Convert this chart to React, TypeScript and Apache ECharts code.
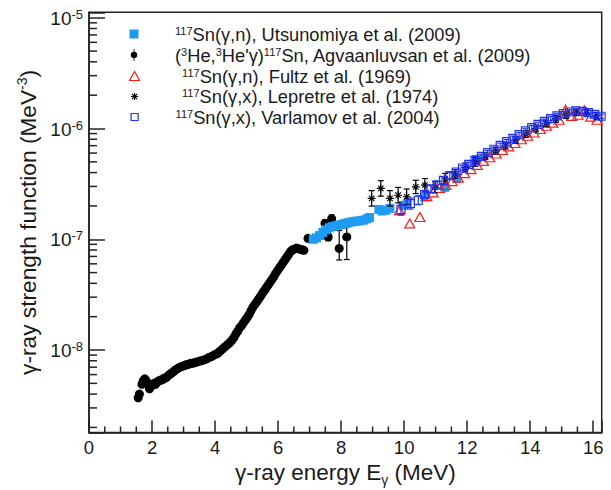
import React, { useEffect, useRef } from "react";
import * as echarts from "echarts";

const FONT = "'Liberation Sans', Arial, Helvetica, sans-serif";
const TXT = "#1a1a1a";
const AX = "#222222";
const BLUE = "#1e9cf2";
const RED = "#ff1a1a";
const VBLUE = "#2233ee";

// Axis ranges
const X_MIN = 0;
const X_MAX = 16.27;
const Y_MIN = 1.8e-9;
const Y_MAX = 1.12e-5;

// (3He,3He'γ)117Sn, Agvaanluvsan et al. (2009)
const agvE = [1.56, 1.6, 1.68, 1.72, 1.77, 1.82, 1.87, 1.92, 1.96, 2.01, 2.06, 2.11, 2.16, 2.21, 2.27, 2.32, 2.38, 2.44, 2.5, 2.56, 2.62, 2.68, 2.74, 2.8, 2.86, 2.92, 2.98, 3.04, 3.1, 3.16, 3.22, 3.28, 3.34, 3.4, 3.46, 3.52, 3.58, 3.64, 3.7, 3.76, 3.82, 3.88, 3.94, 4.0, 4.06, 4.12, 4.18, 4.24, 4.3, 4.36, 4.42, 4.48, 4.54, 4.6, 4.66, 4.72, 4.78, 4.84, 4.9, 4.96, 5.02, 5.08, 5.14, 5.2, 5.26, 5.32, 5.38, 5.44, 5.5, 5.56, 5.62, 5.68, 5.74, 5.8, 5.86, 5.92, 5.98, 6.04, 6.1, 6.16, 6.22, 6.28, 6.34, 6.4, 6.46, 6.52, 6.58, 6.64, 6.7, 6.76, 6.82, 6.95, 7.49, 7.59, 7.7, 7.94, 8.18];
const agvF = [3.7e-9, 4.0e-9, 4.9e-9, 5.25e-9, 5.5e-9, 5.25e-9, 4.9e-9, 4.47e-9, 4.68e-9, 4.79e-9, 5.0e-9, 4.9e-9, 5.13e-9, 5.25e-9, 5.37e-9, 5.37e-9, 5.56e-9, 5.62e-9, 5.82e-9, 6.03e-9, 6.17e-9, 6.38e-9, 6.61e-9, 6.76e-9, 6.92e-9, 7.08e-9, 7.16e-9, 7.24e-9, 7.41e-9, 7.41e-9, 7.59e-9, 7.59e-9, 7.67e-9, 7.76e-9, 7.85e-9, 7.94e-9, 8.04e-9, 8.13e-9, 8.22e-9, 8.41e-9, 8.61e-9, 8.71e-9, 8.91e-9, 9.12e-9, 9.23e-9, 9.55e-9, 9.89e-9, 1.023e-8, 1.06e-8, 1.096e-8, 1.135e-8, 1.175e-8, 1.23e-8, 1.3e-8, 1.396e-8, 1.48e-8, 1.585e-8, 1.66e-8, 1.76e-8, 1.86e-8, 1.97e-8, 2.09e-8, 2.26e-8, 2.43e-8, 2.57e-8, 2.72e-8, 2.88e-8, 3.05e-8, 3.24e-8, 3.43e-8, 3.63e-8, 3.85e-8, 4.07e-8, 4.32e-8, 4.57e-8, 4.9e-8, 5.19e-8, 5.5e-8, 5.82e-8, 6.17e-8, 6.53e-8, 6.92e-8, 7.33e-8, 7.76e-8, 8.04e-8, 8.13e-8, 8.32e-8, 8.22e-8, 8.13e-8, 8.04e-8, 7.94e-8, 1.02e-7, 1.39e-7, 1.05e-7, 1.53e-7, 8.26e-8, 1.05e-7];
// visible error bars of the last Agvaanluvsan points
const agvBarE = [7.49, 7.59, 7.7, 7.94, 8.18];
const agvBarLo = [1.29e-7, 9.7e-8, 1.41e-7, 6.5e-8, 6.56e-8];
const agvBarHi = [1.5e-7, 1.14e-7, 1.66e-7, 1.2e-7, 1.29e-7];

// 117Sn(γ,n), Utsunomiya et al. (2009)
const utsE = [7.12, 7.22, 7.32, 7.42, 7.52, 7.62, 7.72, 7.82, 7.92, 8.02, 8.12, 8.22, 8.32, 8.42, 8.52, 8.62, 8.72, 8.82, 8.9, 9.2, 9.3, 9.42, 9.55, 9.98, 10.1, 10.66, 11.29, 11.67, 12.3];
const utsF = [1.0e-7, 1.03e-7, 1.08e-7, 1.15e-7, 1.22e-7, 1.27e-7, 1.3e-7, 1.32e-7, 1.34e-7, 1.36e-7, 1.39e-7, 1.41e-7, 1.43e-7, 1.45e-7, 1.46e-7, 1.47e-7, 1.49e-7, 1.53e-7, 1.57e-7, 1.86e-7, 1.8e-7, 1.83e-7, 1.9e-7, 2.02e-7, 2.1e-7, 2.42e-7, 2.94e-7, 3.54e-7, 5.26e-7];

// 117Sn(γ,n), Fultz et al. (1969)
const fulE = [9.85, 10.18, 10.5, 10.72, 10.92, 11.12, 11.32, 11.52, 11.72, 11.92, 12.12, 12.32, 12.52, 12.72, 12.92, 13.12, 13.32, 13.52, 13.72, 13.92, 14.12, 14.32, 14.52, 14.72, 14.92, 15.12, 15.32, 15.52, 15.72, 15.92, 16.12, 16.3];
const fulF = [1.83e-7, 1.39e-7, 1.59e-7, 2.45e-7, 2.65e-7, 2.9e-7, 3.1e-7, 3.35e-7, 3.6e-7, 3.95e-7, 4.3e-7, 4.7e-7, 5.1e-7, 5.5e-7, 5.95e-7, 6.4e-7, 6.9e-7, 7.4e-7, 8.0e-7, 8.6e-7, 9.2e-7, 9.9e-7, 1.06e-6, 1.13e-6, 1.2e-6, 1.48e-6, 1.3e-6, 1.33e-6, 1.46e-6, 1.28e-6, 1.2e-6, 1.16e-6];

// 117Sn(γ,x), Lepretre et al. (1974) — error in decades
const lepE = [8.97, 9.26, 9.55, 9.81, 10.08, 10.37, 10.66, 10.98, 11.3, 11.62, 11.94, 12.26, 12.58, 12.9, 13.22, 13.54, 13.86, 14.18, 14.5, 14.82, 15.14, 15.46, 15.78, 16.1];
const lepF = [2.34e-7, 2.88e-7, 2.34e-7, 2.5e-7, 2.42e-7, 2.97e-7, 3.08e-7, 2.95e-7, 3.5e-7, 3.9e-7, 4.45e-7, 5.0e-7, 5.65e-7, 6.3e-7, 7.0e-7, 7.9e-7, 8.9e-7, 1.0e-6, 1.11e-6, 1.22e-6, 1.32e-6, 1.4e-6, 1.38e-6, 1.3e-6];
const lepErr = [0.07, 0.07, 0.07, 0.07, 0.07, 0.06, 0.06, 0.05, 0.05, 0.04, 0.04, 0.04, 0.03, 0.03, 0.03, 0.03, 0.03, 0.03, 0.03, 0.03, 0.03, 0.03, 0.03, 0.03];

// 117Sn(γ,x), Varlamov et al. (2004) — error in decades
const varE = [9.9, 10.2, 10.45, 10.65, 10.85, 11.05, 11.25, 11.45, 11.65, 11.85, 12.05, 12.25, 12.45, 12.65, 12.85, 13.05, 13.25, 13.45, 13.65, 13.85, 14.05, 14.25, 14.45, 14.65, 14.85, 15.05, 15.25, 15.45, 15.65, 15.85, 16.05, 16.25];
const varF = [1.85e-7, 2.1e-7, 2.25e-7, 2.55e-7, 2.85e-7, 3.1e-7, 3.4e-7, 3.75e-7, 4.05e-7, 4.4e-7, 4.75e-7, 5.15e-7, 5.6e-7, 6.05e-7, 6.5e-7, 7.05e-7, 7.6e-7, 8.15e-7, 8.8e-7, 9.5e-7, 1.02e-6, 1.09e-6, 1.16e-6, 1.23e-6, 1.3e-6, 1.36e-6, 1.41e-6, 1.44e-6, 1.43e-6, 1.39e-6, 1.34e-6, 1.29e-6];
const varErr = [0.05, 0.05, 0.04, 0.03, 0.03, 0.03, 0.03, 0.03, 0.02, 0.02, 0.02, 0.02, 0.02, 0.02, 0.02, 0.02, 0.02, 0.02, 0.02, 0.02, 0.02, 0.02, 0.02, 0.02, 0.02, 0.02, 0.02, 0.02, 0.02, 0.02, 0.02, 0.02];

const N_UTS = "117Sn(γ,n), Utsunomiya et al. (2009)";
const N_AGV = "(3He,3He'γ)117Sn, Agvaanluvsan et al. (2009)";
const N_FUL = "117Sn(γ,n), Fultz et al. (1969)";
const N_LEP = "117Sn(γ,x), Lepretre et al. (1974)";
const N_VAR = "117Sn(γ,x), Varlamov et al. (2004)";

const LEGEND_RICH: Record<string, string> = {
  [N_UTS]: "{s|117}{t|Sn(γ,n), Utsunomiya et al. (2009)}",
  [N_AGV]: "{t|(}{s|3}{t|He,}{s|3}{t|He'γ)}{s|117}{t|Sn, Agvaanluvsan et al. (2009)}",
  [N_FUL]: "{s|117}{t|Sn(γ,n), Fultz et al. (1969)}",
  [N_LEP]: "{s|117}{t|Sn(γ,x), Lepretre et al. (1974)}",
  [N_VAR]: "{s|117}{t|Sn(γ,x), Varlamov et al. (2004)}",
};

const STAR = "path://M5,0V10M0,5H10M1.6,1.6L8.4,8.4M8.4,1.6L1.6,8.4";

// legend icons: a box W x 12 with the glyph in its left 12 px
function iconBox(w: number, body: string) {
  return "path://M0,0M" + w + ",12" + body;
}
const B_SQF = "M1.5,1.5H10.5V10.5H1.5Z";
const B_AGV = "M5.6,0H6.4V2.82A3.2,3.2 0 0 1 6.4,9.18V12H5.6V9.18A3.2,3.2 0 0 1 5.6,2.82Z";
const B_TRI = "M6,1.5L11,10.5L1,10.5Z";
const B_STAR = "M6,2.4V9.6M2.4,6H9.6M3.5,3.5L8.5,8.5M8.5,3.5L3.5,8.5";
const B_SQO = "M2.5,2.5H9.5V9.5H2.5Z";

function zip(a: number[], b: number[]) {
  return a.map((v, i) => [v, b[i]]);
}

function errSeries(name: string, data: number[][], color: string, cap: number, z: number) {
  return {
    type: "custom",
    name,
    silent: true,
    z,
    encode: { x: 0, y: [1, 2] },
    data,
    renderItem: (params: any, api: any) => {
      const x = api.value(0);
      const p1 = api.coord([x, api.value(1)]);
      const p2 = api.coord([x, api.value(2)]);
      const st = { stroke: color, lineWidth: 1.2 };
      return {
        type: "group",
        children: [
          { type: "line", shape: { x1: p1[0], y1: p1[1], x2: p2[0], y2: p2[1] }, style: st },
          { type: "line", shape: { x1: p1[0] - cap, y1: p1[1], x2: p1[0] + cap, y2: p1[1] }, style: st },
          { type: "line", shape: { x1: p2[0] - cap, y1: p2[1], x2: p2[0] + cap, y2: p2[1] }, style: st },
        ],
      };
    },
  };
}

const legendRich = {
  t: { fontFamily: FONT, fontSize: 18.3, lineHeight: 18, color: TXT, verticalAlign: "bottom" },
  s: { fontFamily: FONT, fontSize: 11, lineHeight: 11, color: TXT, verticalAlign: "top" },
};

function legendRow(name: string, centerY: number, textX: number, body: string, itemStyle: any) {
  const left = 128;
  const w = textX - 5 - left;
  return {
    orient: "vertical",
    left,
    top: centerY - 9,
    padding: 0,
    itemGap: 0,
    itemWidth: w,
    itemHeight: 12,
    selectedMode: false,
    data: [{ name, icon: iconBox(w, body), itemStyle }],
    formatter: (n: string) => LEGEND_RICH[n] || n,
    textStyle: { fontFamily: FONT, color: TXT, rich: legendRich },
  };
}

function buildOption() {
  const yMinor: number[][] = [];
  for (let e = -9; e <= -5; e++) {
    for (let m = 2; m <= 9; m++) {
      const v = m * Math.pow(10, e);
      if (v > Y_MIN && v < Y_MAX) yMinor.push([X_MIN, v]);
    }
  }
  const xMinor: number[][] = [];
  for (let i = 1; i * 0.5 < X_MAX; i++) {
    const v = i * 0.5;
    if (v % 2 !== 0) xMinor.push([v, Y_MIN]);
  }

  const lepBars = lepE.map((x, i) => [x, lepF[i] * Math.pow(10, -lepErr[i]), lepF[i] * Math.pow(10, lepErr[i])]);
  const varBars = varE.map((x, i) => [x, varF[i] * Math.pow(10, -varErr[i]), varF[i] * Math.pow(10, varErr[i])]);
  const agvBars = agvBarE.map((x, i) => [x, agvBarLo[i], agvBarHi[i]]);

  const tickStyle = { color: AX, width: 1.5 };
  const openStyle = (c: string) => ({ color: "rgba(0,0,0,0)", borderColor: c, borderWidth: 1.2 });

  return {
    animation: false,
    backgroundColor: "#ffffff",
    textStyle: { fontFamily: FONT },
    grid: {
      left: 89,
      right: 9.3,
      top: 12.3,
      bottom: 57.5,
      show: true,
      borderColor: AX,
      borderWidth: 1.5,
      backgroundColor: "transparent",
      containLabel: false,
      outerBoundsMode: "none",
    },
    legend: [
      legendRow(N_UTS, 34, 175, B_SQF, { color: BLUE, borderWidth: 0 }),
      legendRow(N_AGV, 55, 175, B_AGV, { color: "#000", borderWidth: 0 }),
      legendRow(N_FUL, 76, 181.5, B_TRI, openStyle(RED)),
      legendRow(N_LEP, 96.5, 181.5, B_STAR, { color: "rgba(0,0,0,0)", borderColor: "#000", borderWidth: 1.1 }),
      legendRow(N_VAR, 117, 175, B_SQO, openStyle(VBLUE)),
    ],
    xAxis: {
      type: "value",
      min: X_MIN,
      max: X_MAX,
      interval: 2,
      axisLine: { show: true, onZero: false, lineStyle: tickStyle },
      axisTick: { show: true, inside: true, length: 12, lineStyle: tickStyle },
      splitLine: { show: false },
      axisLabel: {
        fontFamily: FONT,
        fontSize: 18.5,
        color: TXT,
        margin: 5,
        formatter: (v: number) => {
          const r = Math.round(v);
          return Math.abs(v - r) < 1e-6 && r % 2 === 0 ? String(r) : "";
        },
      },
      name: "{a|γ-ray energy E}{g|γ}{a| (MeV)}",
      nameLocation: "middle",
      nameGap: 18,
      nameTextStyle: {
        rich: {
          a: { fontFamily: FONT, fontSize: 22.5, lineHeight: 23, color: TXT, verticalAlign: "top" },
          g: { fontFamily: FONT, fontSize: 14, lineHeight: 14, color: TXT, verticalAlign: "top", padding: [12, 0, 0, 0] },
        },
      },
    },
    yAxis: {
      type: "log",
      logBase: 10,
      min: Y_MIN,
      max: Y_MAX,
      axisLine: { show: true, onZero: false, lineStyle: tickStyle },
      axisTick: { show: true, inside: true, length: 16, lineStyle: tickStyle },
      splitLine: { show: false },
      minorTick: { show: false },
      axisLabel: {
        margin: 6,
        formatter: (v: number) => {
          const e = Math.log10(v);
          const r = Math.round(e);
          if (Math.abs(e - r) > 1e-4) return "";
          return "{b|10}{s|" + r + "}";
        },
        rich: {
          b: { fontFamily: FONT, fontSize: 19, lineHeight: 20, color: TXT, verticalAlign: "bottom", padding: [3, 0, 0, 0] },
          s: { fontFamily: FONT, fontSize: 13, lineHeight: 13, color: TXT, verticalAlign: "top" },
        },
      },
      name: "{a|γ-ray strength function (MeV}{s|-3}{a|)}",
      nameLocation: "middle",
      nameGap: 45,
      nameTextStyle: {
        rich: {
          a: { fontFamily: FONT, fontSize: 22.7, lineHeight: 24, color: TXT, verticalAlign: "bottom" },
          s: { fontFamily: FONT, fontSize: 14, lineHeight: 14, color: TXT, verticalAlign: "top" },
        },
      },
    },
    series: [
      errSeries("agvErr", agvBars, "#000", 3, 2),
      {
        type: "scatter",
        name: N_AGV,
        silent: true,
        z: 2,
        symbol: "circle",
        symbolSize: 9,
        itemStyle: { color: "#000", opacity: 1 },
        data: zip(agvE, agvF),
      },
      {
        type: "scatter",
        name: N_UTS,
        silent: true,
        z: 3,
        symbol: "rect",
        symbolSize: 9,
        itemStyle: { color: BLUE, opacity: 1 },
        data: zip(utsE, utsF),
      },
      {
        type: "scatter",
        name: N_FUL,
        silent: true,
        z: 4,
        symbol: "triangle",
        symbolSize: [10, 9],
        itemStyle: { ...openStyle(RED), opacity: 1 },
        data: zip(fulE, fulF),
      },
      errSeries("lepErr", lepBars, "#000", 3, 5),
      {
        type: "scatter",
        name: N_LEP,
        silent: true,
        z: 5,
        symbol: STAR,
        symbolSize: 8,
        itemStyle: { color: "rgba(0,0,0,0)", borderColor: "#000", borderWidth: 1.1, opacity: 1 },
        data: zip(lepE, lepF),
      },
      errSeries("varErr", varBars, VBLUE, 3, 6),
      {
        type: "scatter",
        name: N_VAR,
        silent: true,
        z: 6,
        symbol: "rect",
        symbolSize: 8,
        itemStyle: { ...openStyle(VBLUE), opacity: 1 },
        data: zip(varE, varF),
      },
      {
        type: "custom",
        name: "yMinorTicks",
        silent: true,
        z: 10,
        data: yMinor,
        renderItem: (params: any, api: any) => {
          const p = api.coord([api.value(0), api.value(1)]);
          return { type: "line", shape: { x1: p[0], y1: p[1], x2: p[0] + 8, y2: p[1] }, style: { stroke: AX, lineWidth: 1.5 } };
        },
      },
      {
        type: "custom",
        name: "xMinorTicks",
        silent: true,
        z: 10,
        data: xMinor,
        renderItem: (params: any, api: any) => {
          const p = api.coord([api.value(0), api.value(1)]);
          return { type: "line", shape: { x1: p[0], y1: p[1], x2: p[0], y2: p[1] - 6 }, style: { stroke: AX, lineWidth: 1.5 } };
        },
      },
    ],
  };
}

export default function App() {
  const ref = useRef<HTMLDivElement>(null);
  useEffect(() => {
    if (!ref.current) return;
    const chart = echarts.init(ref.current, null, { renderer: "svg" });
    chart.setOption(buildOption() as any);
    return () => chart.dispose();
  }, []);
  return (
    <div
      ref={ref}
      style={{ position: "absolute", left: 0, top: 0, width: 611, height: 490, background: "#ffffff" }}
    />
  );
}
